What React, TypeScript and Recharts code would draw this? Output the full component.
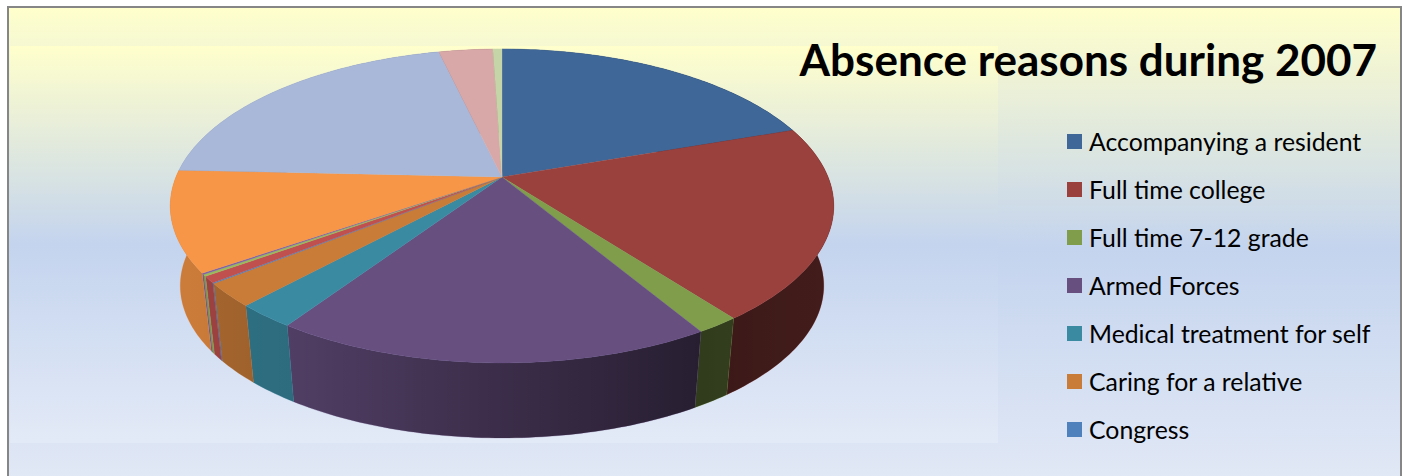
import { Legend, Pie, PieChart } from 'recharts';

const categories = [
  'Accompanying a resident',
  'Full time college',
  'Full time 7-12 grade',
  'Armed Forces',
  'Medical treatment for self',
  'Caring for a relative',
  'Congress',
  'Slice 8',
  'Slice 9',
  'Slice 10',
  'Slice 11',
  'Slice 12',
  'Slice 13',
  'Slice 14',
];
const shares = [19.7, 19.94, 1.78, 18.0, 2.47, 2.42, 0.08, 0.67, 0.19, 0.14, 10.33, 20.61, 3.14, 0.53];
const colors = [
  '#3F6797', '#9A413E', '#7F9D4A', '#674F80', '#3A8AA2', '#C97B38', '#4F81BD',
  '#C0504D', '#9BBB59', '#8064A2', '#F79646', '#A9B8D8', '#D8A8A8', '#C5D5A8',
];
const legendCount = 7;

const tableData = categories.map((name, i) => ({ name, value: shares[i], fill: colors[i] }));

// fake 3D: circle pushed through a perspective squash, wall is the same rim further down
const PERSPECTIVE = 0.1847;
const SQUASH = 0.465;
const WALL_SCALE = 0.97;
const WALL_DROP = 80.6;

function rimPoints(props: any, scale: number, drop: number) {
  const { cx, cy, outerRadius, startAngle, endAngle } = props;
  const steps = Math.max(2, Math.ceil(Math.abs(endAngle - startAngle)));
  const pts: string[] = [];
  for (let i = 0; i <= steps; i++) {
    const a = ((startAngle + ((endAngle - startAngle) * i) / steps) * Math.PI) / 180;
    const u = Math.cos(a);
    const v = -Math.sin(a);
    const w = 1 - PERSPECTIVE * v;
    const x = cx + (scale * outerRadius * u) / w;
    const y = cy + drop + (scale * outerRadius * SQUASH * v) / w;
    pts.push(`${x.toFixed(2)},${y.toFixed(2)}`);
  }
  return pts;
}

function TopFace(props: any) {
  const pts = rimPoints(props, 1, 0);
  const d = `M${props.cx},${props.cy}L${pts.join('L')}Z`;
  return <path d={d} fill={props.fill} stroke={props.fill} strokeWidth={0.3} />;
}

function WallFace(props: any) {
  const top = rimPoints(props, 1, 0);
  const bottom = rimPoints(props, WALL_SCALE, WALL_DROP).reverse();
  const d = `M${top.join('L')}L${bottom.join('L')}Z`;
  return (
    <g>
      <path d={d} fill={props.fill} stroke={props.fill} strokeWidth={0.3} />
      <path d={d} fill="url(#wallShade)" />
    </g>
  );
}

function LegendList() {
  return (
    <div>
      {categories.slice(0, legendCount).map((name, i) => (
        <div key={name} style={{ display: 'flex', alignItems: 'center', height: 48 }}>
          <span style={{ width: 15, height: 15, background: colors[i], marginRight: 7 }} />
          <span style={{ fontSize: 24.8, color: '#000', whiteSpace: 'nowrap' }}>{name}</span>
        </div>
      ))}
    </div>
  );
}

export default function App() {
  return (
    <div style={{ position: 'absolute', left: 0, top: 0, width: 1403, height: 476, overflow: 'hidden', fontFamily: 'Lato' }}>
      <div
        style={{
          position: 'absolute',
          left: 7,
          top: 6,
          width: 1391,
          height: 480,
          border: '2.5px solid #868686',
          background: 'linear-gradient(#FFFFCC 0%, #C4D4EE 50%, #E2E9F6 100%)',
        }}
      />
      <div
        style={{
          position: 'absolute',
          left: 10,
          top: 46,
          width: 988,
          height: 397,
          background: 'linear-gradient(#FFFFCC 0%, #C4D4EE 50%, #E3EAF7 100%)',
        }}
      />
      <PieChart
        width={1403}
        height={476}
        margin={{ top: 0, right: 0, bottom: 0, left: 0 }}
        style={{ position: 'absolute', left: 0, top: 0 }}
      >
        <defs>
          <linearGradient id="wallShade" gradientUnits="userSpaceOnUse" x1={170} y1={0} x2={834} y2={0}>
            <stop offset="0%" stopColor="#000" stopOpacity={0.17} />
            <stop offset="18%" stopColor="#000" stopOpacity={0.22} />
            <stop offset="80%" stopColor="#000" stopOpacity={0.62} />
            <stop offset="100%" stopColor="#000" stopOpacity={0.57} />
          </linearGradient>
        </defs>
        <Pie
          data={tableData}
          dataKey="value"
          nameKey="name"
          cx={502}
          cy={177}
          outerRadius={326}
          startAngle={90}
          endAngle={-270}
          stroke="none"
          shape={WallFace}
          isAnimationActive={false}
        />
        <Pie
          data={tableData}
          dataKey="value"
          nameKey="name"
          cx={502}
          cy={177}
          outerRadius={326}
          startAngle={90}
          endAngle={-270}
          stroke="none"
          shape={TopFace}
          isAnimationActive={false}
        />
        <text x={1377} y={76} textAnchor="end" fontSize={44} fontWeight={700} fill="#000" fontFamily="Lato">
          Absence reasons during 2007
        </text>
        <Legend
          content={<LegendList />}
          wrapperStyle={{ left: 1067, top: 117, width: 330, bottom: 'auto', right: 'auto' }}
        />
      </PieChart>
    </div>
  );
}
